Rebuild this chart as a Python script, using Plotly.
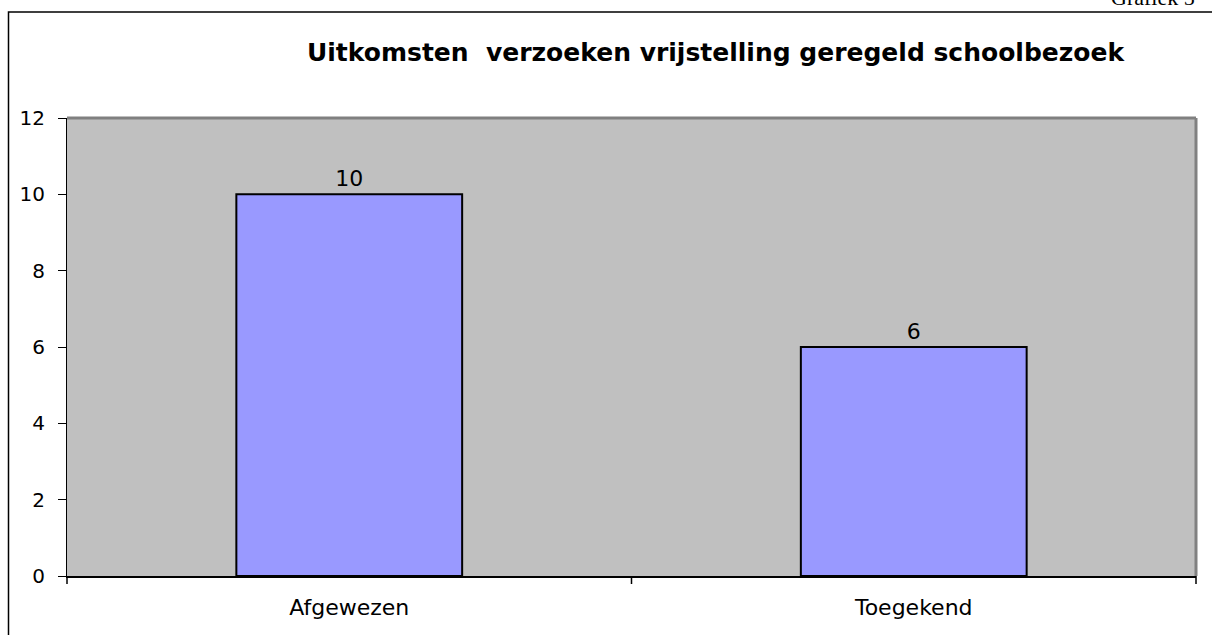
import plotly.graph_objects as go

categories = ["Afgewezen", "Toegekend"]
values = [10, 6]
y_ticks = [0, 2, 4, 6, 8, 10, 12]
title_text = "Uitkomsten  verzoeken vrijstelling geregeld schoolbezoek"
corner_label = "Grafiek 5"

W, H = 1212, 635
L, R, T, B = 67, 16, 118, 59
pw, ph = W - L - R, H - T - B

def px_x(p):
    return (p - L) / pw

def px_y(p):
    return (H - B - p) / ph

FONT = "DejaVu Sans, Verdana, Arial"

fig = go.Figure()
fig.add_trace(go.Bar(
    x=categories, y=values,
    marker=dict(color="#9999FF", line=dict(color="black", width=2)),
    text=[str(v) for v in values], textposition="outside",
    textfont=dict(family=FONT, size=22, color="black"),
    cliponaxis=False,
    hoverinfo="skip",
))

fig.update_layout(
    width=W, height=H,
    margin=dict(l=L, r=R, t=T, b=B),
    paper_bgcolor="white",
    plot_bgcolor="#C0C0C0",
    bargap=0.6,
    showlegend=False,
    font=dict(family=FONT, size=20, color="black"),
    xaxis=dict(showgrid=False, showline=True, linecolor="black", linewidth=2,
               ticks="", tickfont=dict(size=22), ticklabelstandoff=11, fixedrange=True),
    yaxis=dict(range=[0, 12], tickvals=y_ticks, showgrid=False, zeroline=False,
               showline=True, linecolor="black", linewidth=1,
               ticks="outside", ticklen=8, tickcolor="black", tickwidth=1,
               tickfont=dict(size=20), ticklabelstandoff=9, fixedrange=True),
)

shapes = []
# plot frame top/right gray
shapes.append(dict(type="line", xref="paper", yref="paper", x0=0, x1=1, y0=1, y1=1,
                   line=dict(color="#808080", width=3)))
shapes.append(dict(type="line", xref="paper", yref="paper", x0=1, x1=1, y0=0, y1=1,
                   line=dict(color="#808080", width=3)))
# category boundary ticks on x axis
for xb in [0, 0.5, 1]:
    shapes.append(dict(type="line", xref="paper", yref="paper", x0=xb, x1=xb,
                       y0=0, y1=px_y(584), line=dict(color="black", width=1.5)))
# outer border box
shapes.append(dict(type="rect", xref="paper", yref="paper",
                   x0=px_x(8.5), x1=px_x(1230), y0=px_y(660), y1=px_y(12),
                   line=dict(color="black", width=1.5), fillcolor="rgba(0,0,0,0)"))
fig.update_layout(shapes=shapes)

fig.add_annotation(text=title_text, xref="paper", yref="paper",
                   x=px_x(716), y=px_y(52), xanchor="center", yanchor="middle",
                   showarrow=False,
                   font=dict(family="DejaVu Sans, Verdana, Arial", size=25, color="black", weight="bold"))
fig.add_annotation(text=corner_label, xref="paper", yref="paper",
                   x=px_x(1197), y=px_y(12), xanchor="right", yanchor="bottom",
                   showarrow=False,
                   font=dict(family="Liberation Serif, Times New Roman", size=22, color="black"))

fig.write_html("out.html", config={"displayModeBar": False},
               post_script="document.body.style.margin='0';")
